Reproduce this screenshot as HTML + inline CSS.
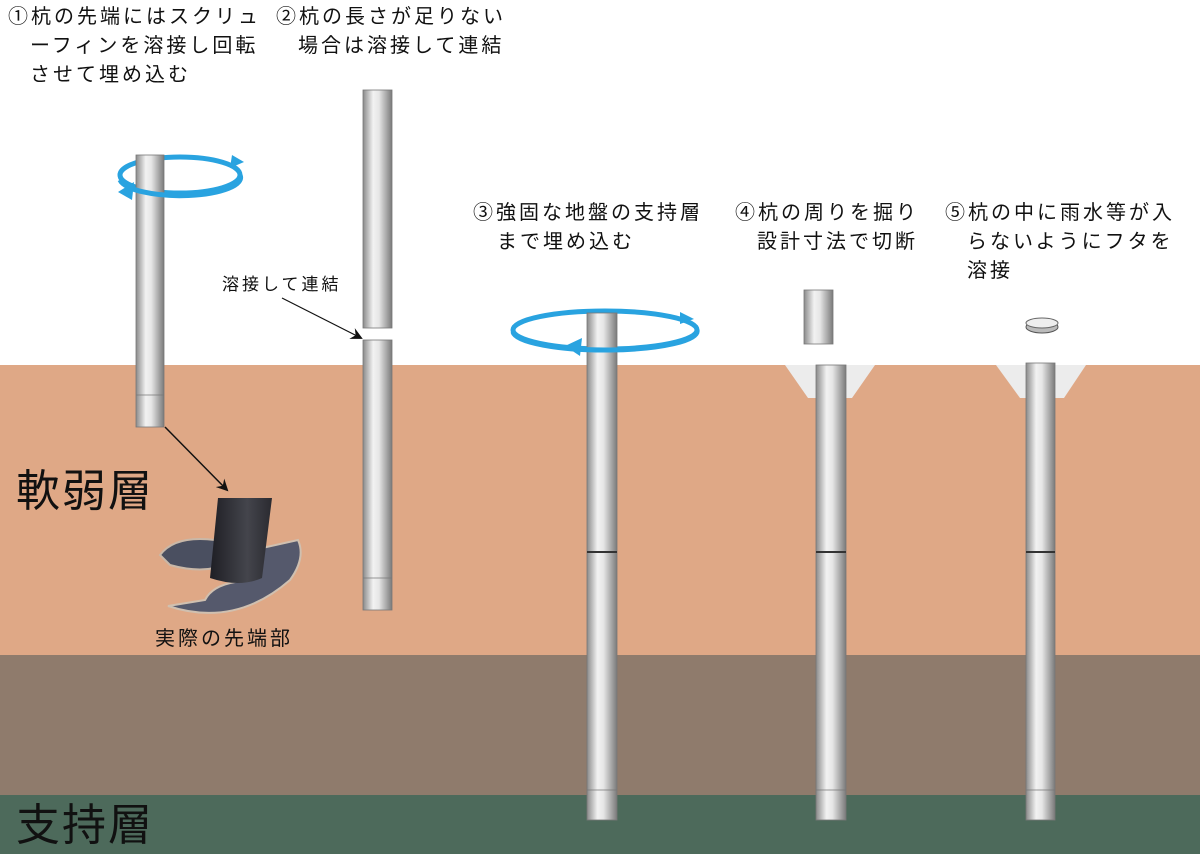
<!DOCTYPE html>
<html><head><meta charset="utf-8"><style>
body{margin:0;background:#fff}
svg text{font-family:"Liberation Sans","Noto Sans CJK JP",sans-serif;fill:#111}
</style></head><body>
<svg width="1200" height="854" viewBox="0 0 1200 854" xmlns="http://www.w3.org/2000/svg">
<defs>
<linearGradient id="p" x1="0" x2="1" y1="0" y2="0">
<stop offset="0" stop-color="#8a8a8a"/><stop offset="0.35" stop-color="#f2f2f2"/><stop offset="0.55" stop-color="#e6e6e6"/><stop offset="1" stop-color="#7a7a7a"/>
</linearGradient>
<linearGradient id="d" x1="0" x2="1"><stop offset="0" stop-color="#1e1e24"/><stop offset="0.6" stop-color="#44454c"/><stop offset="1" stop-color="#2a2a30"/></linearGradient>
<marker id="a" markerWidth="12" markerHeight="12" refX="10" refY="6" orient="auto" markerUnits="userSpaceOnUse"><path d="M0,0 L12,6 L0,12 L4,6 z" fill="#111"/></marker>
</defs>
<rect x="0" y="365" width="1200" height="290" fill="#dfa886"/>
<rect x="0" y="655" width="1200" height="140" fill="#8f7b6c"/>
<rect x="0" y="795" width="1200" height="59" fill="#4d6a5b"/>
<polygon points="785,365 875,365 852,398 808,398" fill="#ececec"/>
<polygon points="996,365 1086,365 1064,398 1020,398" fill="#ececec"/>

<ellipse cx="180" cy="175" rx="60" ry="18" fill="none" stroke="#29a3e0" stroke-width="5"/>
<ellipse cx="605" cy="330" rx="92" ry="19" fill="none" stroke="#29a3e0" stroke-width="5"/>

<g stroke="#777" stroke-width="0.8" fill="url(#p)">
<rect x="136" y="155" width="28" height="272"/>
<line x1="136" y1="395" x2="164" y2="395"/>
<rect x="363" y="90" width="29" height="238"/>
<rect x="363" y="340" width="29" height="270"/>
<line x1="363" y1="578" x2="392" y2="578"/>
<rect x="587" y="313" width="30" height="507"/>
<line x1="587" y1="552" x2="617" y2="552" stroke="#333" stroke-width="2"/>
<line x1="587" y1="790" x2="617" y2="790"/>
<rect x="804" y="290" width="29" height="54"/>
<rect x="816" y="365" width="30" height="455"/>
<line x1="816" y1="552" x2="846" y2="552" stroke="#333" stroke-width="2"/>
<line x1="816" y1="790" x2="846" y2="790"/>
<rect x="1026" y="363" width="29" height="457"/>
<line x1="1026" y1="552" x2="1055" y2="552" stroke="#333" stroke-width="2"/>
<line x1="1026" y1="790" x2="1055" y2="790"/>
</g>
<path d="M120,180 A60,18 0 0 0 240,175" fill="none" stroke="#29a3e0" stroke-width="5"/>
<polygon points="118,192 134,182 132,200" fill="#29a3e0"/>
<polygon points="232,155 244,162 230,168" fill="#29a3e0"/>
<path d="M513,332 A92,19 0 0 0 697,330" fill="none" stroke="#29a3e0" stroke-width="5"/>
<polygon points="565,346 582,338 580,356" fill="#29a3e0"/>
<polygon points="680,312 694,319 680,324" fill="#29a3e0"/>

<ellipse cx="1042" cy="327" rx="16" ry="6" fill="#bbb" stroke="#555"/>
<ellipse cx="1042" cy="323" rx="16" ry="5" fill="#eee" stroke="#666"/>

<!-- screw photo -->
<path d="M160,555 Q175,535 215,540 L215,568 Q195,572 170,565 Z" fill="#4a4f60" stroke="#c9b8a8" stroke-width="2"/>
<path d="M168,606 Q235,628 290,580 Q306,558 298,540 L262,548 Q262,575 235,582 Q212,586 205,600 Z" fill="#55596c" stroke="#d0c0b0" stroke-width="2"/>
<path d="M218,498 L272,498 L262,578 Q240,588 210,578 Z" fill="url(#d)"/>

<line x1="165" y1="427" x2="227" y2="490" stroke="#111" stroke-width="1.5" marker-end="url(#a)"/>
<line x1="282" y1="298" x2="361" y2="338" stroke="#111" stroke-width="1.2" marker-end="url(#a)"/>

<g font-size="20" letter-spacing="3">
<text x="8" y="23">①杭の先端にはスクリュ</text>
<text x="30" y="52">ーフィンを溶接し回転</text>
<text x="30" y="81">させて埋め込む</text>
<text x="276" y="23">②杭の長さが足りない</text>
<text x="298" y="52">場合は溶接して連結</text>
<text x="473" y="219">③強固な地盤の支持層</text>
<text x="497" y="248">まで埋め込む</text>
<text x="735" y="219">④杭の周りを掘り</text>
<text x="757" y="248">設計寸法で切断</text>
<text x="945" y="219">⑤杭の中に雨水等が入</text>
<text x="967" y="248">らないようにフタを</text>
<text x="967" y="277">溶接</text>
<text x="155" y="645">実際の先端部</text>
</g>
<text x="222" y="290" font-size="17" letter-spacing="3">溶接して連結</text>
<text x="16" y="506" font-size="44" letter-spacing="2">軟弱層</text>
<text x="16" y="840" font-size="44" letter-spacing="2">支持層</text>
</svg>
</body></html>
